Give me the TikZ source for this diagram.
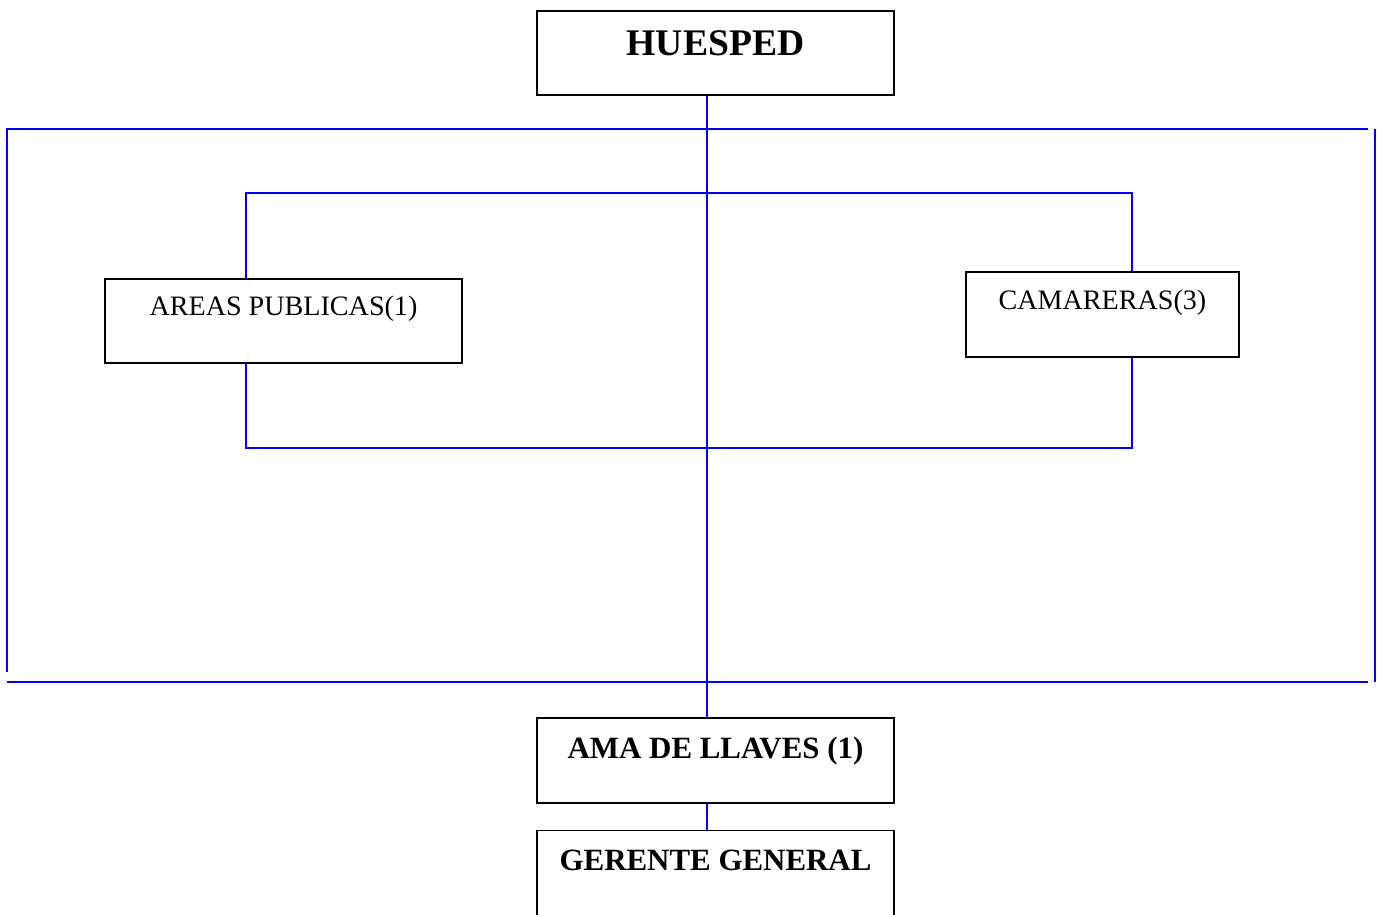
\documentclass[tikz,border=0pt]{standalone}
\usepackage{fontspec}
\setmainfont{Liberation Serif}
\usetikzlibrary{positioning}

\begin{document}
\begin{tikzpicture}[x=0.02cm,y=-0.02cm,
    puesto/.style={draw,thick,rectangle,inner xsep=0pt,inner ysep=0pt,
      minimum width=7.14cm,minimum height=1.68cm},
    jefe/.style={puesto,font=\fontsize{17.6}{20}\selectfont\bfseries},
    enlace/.style={draw=blue,line width=0.9pt}]
    \clip (0,0) rectangle (1383,914);
    % puestos
    \node[puesto,font=\fontsize{21.4}{24}\selectfont\bfseries,
      text height=0.88cm,text depth=0.8cm] (huesped) at (715.5,53) {HUESPED};
    \node[puesto,font=\fontsize{16}{19}\selectfont,
      text height=0.72cm,text depth=0.96cm] (areas) at (283.5,321) {AREAS PUBLICAS(1)};
    \node[puesto,minimum width=5.46cm,font=\fontsize{16}{19}\selectfont,
      text height=0.74cm,text depth=0.96cm] (camareras) at (1102.5,314.5) {CAMARERAS(3)};
    \node[jefe,text height=0.8cm,text depth=0.9cm] (ama) at (715.5,760.5) {AMA DE LLAVES (1)};
    \node[jefe,text height=0.8cm,text depth=0.9cm] (gerente) at (715.5,873) {GERENTE GENERAL};
    % marco
    \coordinate (eje) at (707,0);
    \coordinate (izq) at (246,193);
    \coordinate (der) at (1132,448);
    \draw[enlace,line width=1.2pt] (1368,129) -- (7,129) -- (7,672);
    \draw[enlace,line width=1.2pt] (1375,129) -- (1375,682);
    \draw[enlace,line width=1.2pt] (7,682) -- (1368,682);
    % enlaces
    \draw[enlace] (areas.north -| izq) -- (izq) -| (camareras.north -| der);
    \draw[enlace] (areas.south -| izq) |- (der) -- (camareras.south -| der);
    \draw[enlace] (huesped.south -| eje) -- (ama.north -| eje);
    \draw[enlace] (ama.south -| eje) -- (gerente.north -| eje);
  \end{tikzpicture}
\end{document}
